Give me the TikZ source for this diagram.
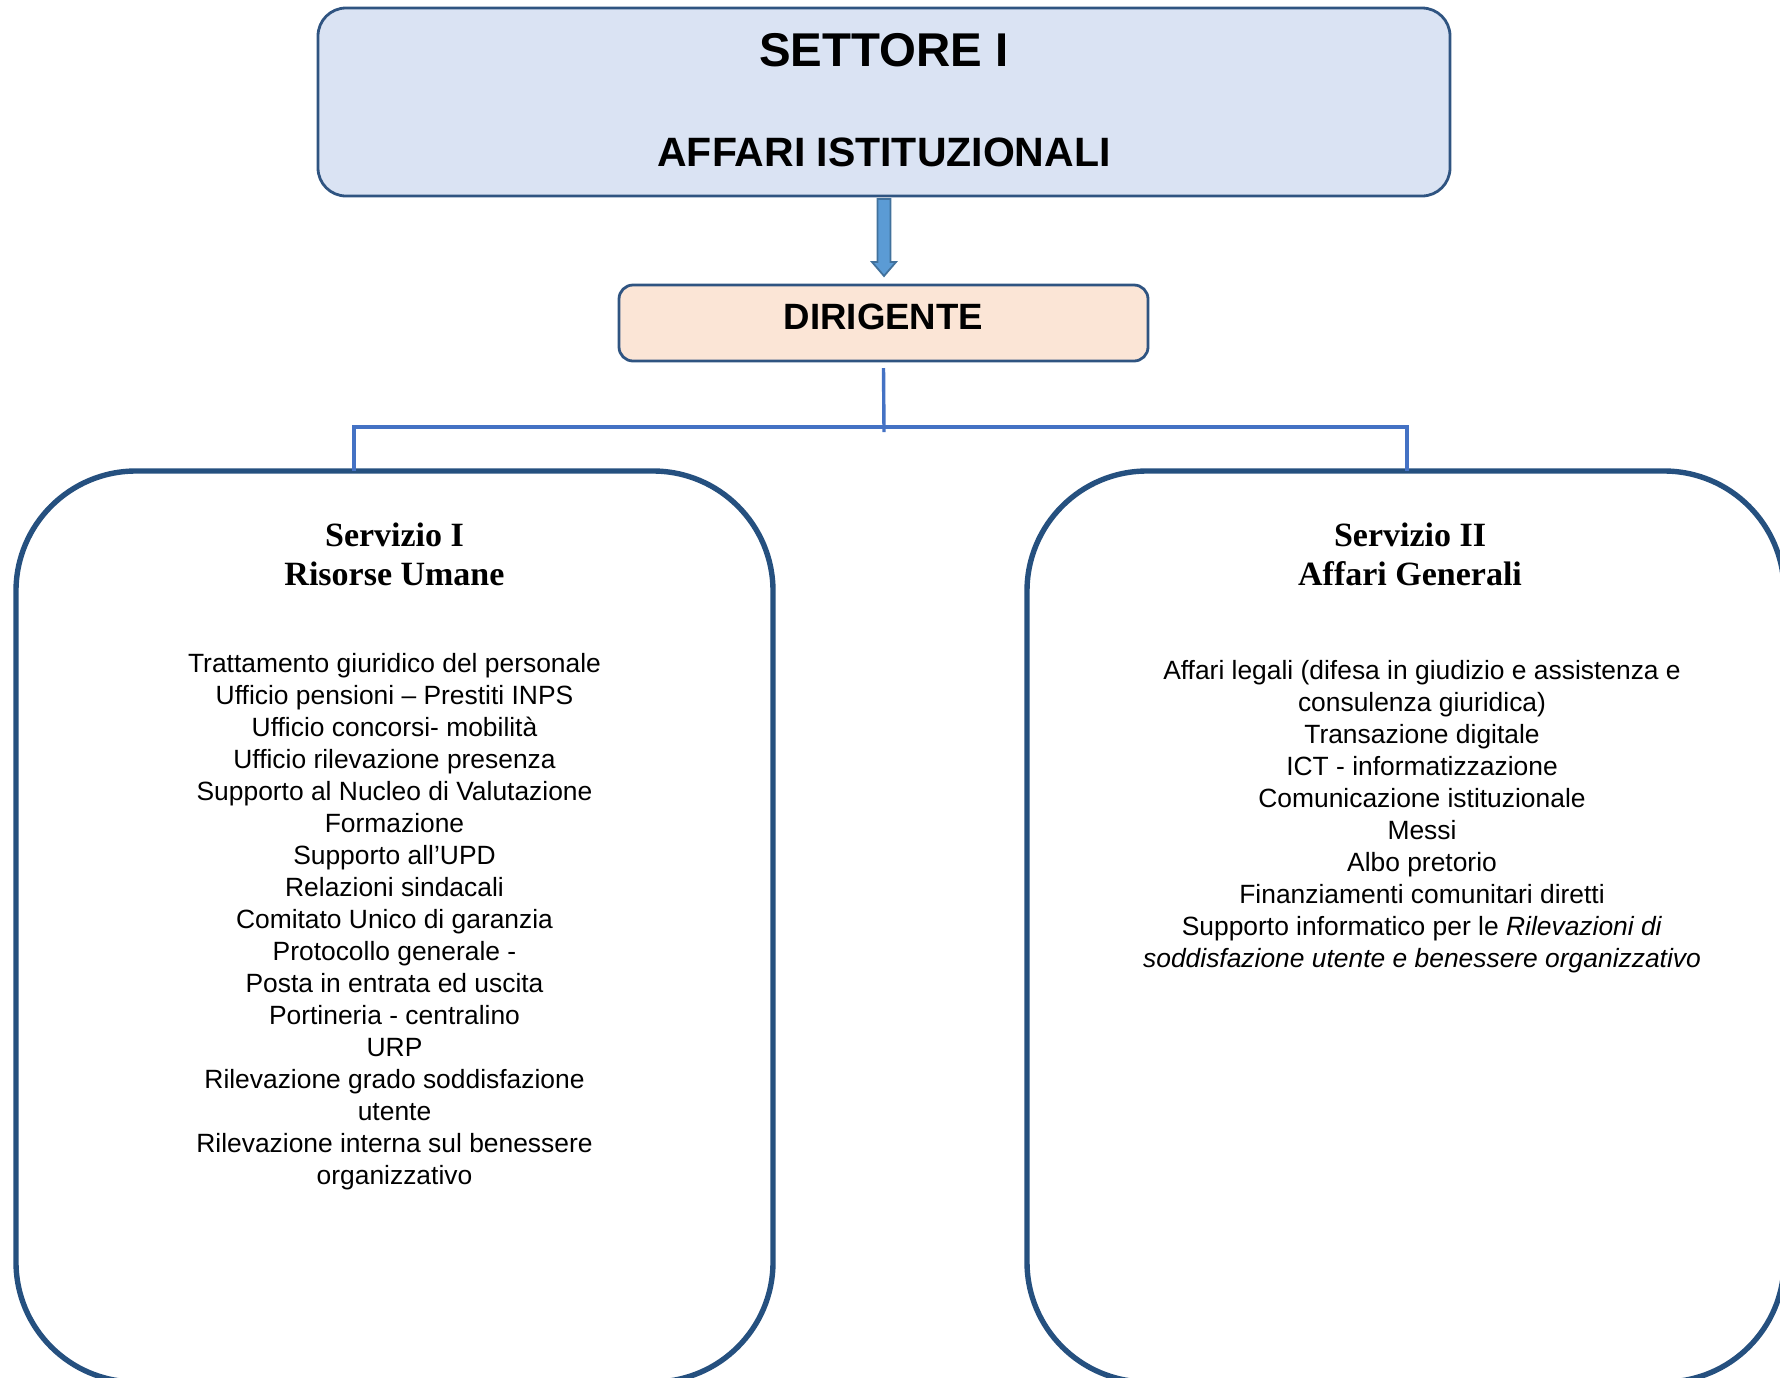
\documentclass[tikz,border=0pt]{standalone}
\usepackage{fontspec}
\setmainfont{Liberation Sans}
\newfontfamily\servfont{Liberation Serif}
\usetikzlibrary{calc}
\definecolor{topfill}{HTML}{DAE3F3}
\definecolor{topline}{HTML}{2F5481}
\definecolor{dirfill}{HTML}{FBE5D6}
\definecolor{arrfill}{HTML}{5B9BD5}
\definecolor{arrline}{HTML}{41719C}
\definecolor{linkcol}{HTML}{4472C4}
\definecolor{servline}{HTML}{25507F}
\begin{document}
\begin{tikzpicture}[x=0.5pt,y=-0.5pt,inner sep=0pt,outer sep=0pt,
topbox/.style={draw=topline,fill=topfill,rectangle,rounded corners=14pt,line width=1.4pt,minimum width=566pt,minimum height=94pt},
dirbox/.style={draw=topline,fill=dirfill,rectangle,rounded corners=7pt,line width=1.4pt,minimum width=264.5pt,text height=22pt,text depth=16pt,font=\bfseries\fontsize{18.3}{22}\selectfont},
servbox/.style={draw=servline,rectangle,rounded corners=60pt,line width=2.7pt,minimum width=378.5pt,minimum height=455.5pt},
servhead/.style={anchor=north,align=center,font=\servfont\bfseries\fontsize{17}{19.5}\selectfont},
servlist/.style={anchor=north,align=center,font=\fontsize{13.2}{16}\selectfont},
link/.style={draw=linkcol,line width=1.7pt},
pointer/.style={draw=arrline,fill=arrfill,line width=0.9pt,line join=miter}]
\useasboundingbox (0,0) rectangle (1780,1377);
\draw (884,102) node[topbox] (settore) {};
\draw (884,50) node[font=\bfseries\fontsize{23.7}{28}\selectfont] (settoreT) {SETTORE I};
\draw (884,152) node[font=\bfseries\fontsize{20.5}{24}\selectfont] (affariT) {AFFARI ISTITUZIONALI};
\draw (883.5,323) node[dirbox] (dirigente) {DIRIGENTE};
\draw[pointer] ($(settore.south)+(-6.5,3)$) -- ++(13,0) -- ++(0,63) -- ++(5.5,0) -- ++(-12,14) -- ++(-12,-14) -- ++(5.5,0) -- cycle;
\draw (394.5,926.5) node[servbox] (serv1) {};
\draw (1405.5,926.5) node[servbox] (serv2) {};
\coordinate (hub) at (884,427);
\coordinate (drop1) at (354,427);
\coordinate (drop2) at (1407,427);
\draw[link] ($(dirigente.south)+(0,7)$) -- ($(hub)+(0,5)$);
\draw[link] (serv1.north -| drop1) -- (drop1) -- (drop2) -- (serv2.north -| drop2);
\draw (394.5,523) node[servhead] (head1) {Servizio I\\Risorse Umane};
\draw (1410,523) node[servhead] (head2) {Servizio II\\Affari Generali};
\draw (394.5,653) node[servlist] (list1) {Trattamento giuridico del personale\\
Ufficio pensioni – Prestiti INPS\\
Ufficio concorsi- mobilità\\
Ufficio rilevazione presenza\\
Supporto al Nucleo di Valutazione\\
Formazione\\
Supporto all’UPD\\
Relazioni sindacali\\
Comitato Unico di garanzia\\
Protocollo generale -\\
Posta in entrata ed uscita\\
Portineria - centralino\\
URP\\
Rilevazione grado soddisfazione\\
utente\\
Rilevazione interna sul benessere\\
organizzativo};
\draw (1422,660) node[servlist] (list2) {Affari legali (difesa in giudizio e assistenza e\\
consulenza giuridica)\\
Transazione digitale\\
ICT - informatizzazione\\
Comunicazione istituzionale\\
Messi\\
Albo pretorio\\
Finanziamenti comunitari diretti\\
Supporto informatico per le \textit{Rilevazioni di}\\
\textit{soddisfazione utente e benessere organizzativo}};
\end{tikzpicture}
\end{document}
